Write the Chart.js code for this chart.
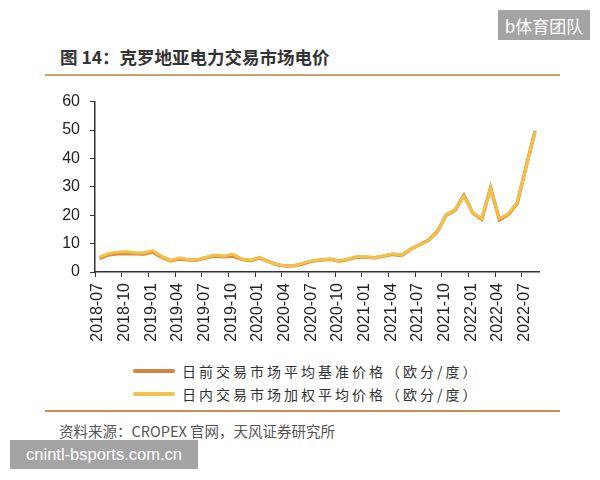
<!DOCTYPE html>
<html>
<head>
<meta charset="utf-8">
<script src="https://cdn.jsdelivr.net/npm/chart.js@4.4.0/dist/chart.umd.min.js"></script>
<style>
    body { margin: 0; width: 600px; height: 480px; background: #ffffff; position: relative; overflow: hidden; font-family: "Noto Sans CJK SC", "Noto Sans", sans-serif; }
    .titulo { position: absolute; left: 60px; top: 44px; font-size: 17.5px; font-weight: bold; color: #333333; }
    .linha { position: absolute; left: 45px; width: 515px; height: 2px; }
    .legenda { position: absolute; left: 133px; font-size: 14px; letter-spacing: 3px; color: #333333; display: flex; align-items: center; }
    .legenda span.amostra { display: inline-block; width: 42px; height: 4px; margin-right: 7px; border-radius: 2px; }
    .fonte { position: absolute; left: 59px; top: 420px; font-size: 14.5px; color: #555555; }
    .marca { position: absolute; background: #a4a4a4; color: #ffffff; display: flex; align-items: center; justify-content: center; }
    #boxChart { position: absolute; left: 0; top: 82px; width: 560px; height: 270px; }
</style>
</head>
<body>
<div class="marca" style="left:498px; top:10px; width:92px; height:30px; font-size:17px;">b体育团队</div>
<div class="titulo">图 14：克罗地亚电力交易市场电价</div>
<div class="linha" style="top:74px; background:#caa66c;"></div>

<div id="boxChart"><canvas id="graficoPreco"></canvas></div>

<div class="legenda" style="top:361px;"><span class="amostra" style="background:#d5843f;"></span>日前交易市场平均基准价格（欧分/度）</div>
<div class="legenda" style="top:384px;"><span class="amostra" style="background:#f0c24e;"></span>日内交易市场加权平均价格（欧分/度）</div>
<div class="linha" style="top:410px; background:#c98c55;"></div>
<div class="fonte">资料来源：CROPEX 官网，天风证券研究所</div>
<div class="marca" style="left:10px; top:440px; width:188px; height:29px; font-size:16.5px; font-family:'Liberation Sans', sans-serif;">cnintl-bsports.com.cn</div>

<script>
// meses (2018-07 ate 2022-08)
const meses = ['2018-07', '2018-08', '2018-09', '2018-10', '2018-11', '2018-12',
    '2019-01', '2019-02', '2019-03', '2019-04', '2019-05', '2019-06',
    '2019-07', '2019-08', '2019-09', '2019-10', '2019-11', '2019-12',
    '2020-01', '2020-02', '2020-03', '2020-04', '2020-05', '2020-06',
    '2020-07', '2020-08', '2020-09', '2020-10', '2020-11', '2020-12',
    '2021-01', '2021-02', '2021-03', '2021-04', '2021-05', '2021-06',
    '2021-07', '2021-08', '2021-09', '2021-10', '2021-11', '2021-12',
    '2022-01', '2022-02', '2022-03', '2022-04', '2022-05', '2022-06',
    '2022-07', '2022-08'];

// rotulos do eixo x (a cada 3 meses)
const rotulosX = ['2018-07', '2018-10', '2019-01', '2019-04', '2019-07', '2019-10',
    '2020-01', '2020-04', '2020-07', '2020-10', '2021-01', '2021-04',
    '2021-07', '2021-10', '2022-01', '2022-04', '2022-07'];

// Dia seguinte - preco base medio (centavos de euro / kWh)
const dadosDiaSeguinte = [4.8, 6.0, 6.4, 6.5, 6.4, 6.3, 7.0, 5.2, 4.0, 4.6, 4.2, 4.2,
    5.0, 5.6, 5.4, 5.6, 4.5, 4.0, 5.0, 3.7, 2.5, 2.1, 2.2, 3.0,
    3.9, 4.2, 4.5, 3.8, 4.5, 5.3, 5.2, 5.0, 5.6, 6.2, 5.8, 8.0,
    9.6, 11.2, 14.2, 20.0, 21.8, 27.0, 20.8, 18.5, 29.6, 18.4, 20.3, 24.2,
    37.2, 49.6];

// Intradiario - preco medio ponderado
const dadosIntradiario = [5.2, 6.5, 7.0, 7.2, 6.8, 6.8, 7.5, 5.5, 4.1, 5.0, 4.3, 4.3,
    5.2, 6.0, 5.6, 6.3, 4.6, 4.1, 5.2, 3.6, 2.6, 2.2, 2.3, 3.2,
    4.0, 4.3, 4.6, 3.7, 4.6, 5.4, 5.3, 5.0, 5.7, 6.4, 5.9, 8.0,
    9.5, 11.0, 14.0, 20.2, 22.0, 26.6, 21.0, 18.8, 29.3, 18.8, 20.5, 24.5,
    37.0, 49.4];

// pontos no meio de cada mes
function montarPontos(valores) {
    return valores.map((v, i) => ({ x: i + 0.5, y: v }));
}

const ctxPreco = document.getElementById('graficoPreco');

const chart = new Chart(ctxPreco, {
    type: 'line',
    data: {
        datasets: [{
            label: '日前交易市场平均基准价格（欧分/度）',
            data: montarPontos(dadosDiaSeguinte),
            borderColor: '#dd8a38',
            borderWidth: 3.5,
            pointRadius: 0,
            tension: 0,
            fill: false,
            order: 1
        }, {
            label: '日内交易市场加权平均价格（欧分/度）',
            data: montarPontos(dadosIntradiario),
            borderColor: '#f2c14a',
            borderWidth: 3,
            pointRadius: 0,
            tension: 0,
            fill: false,
            order: 0
        }]
    },
    options: {
        responsive: true,
        maintainAspectRatio: false,
        animation: false,
        layout: {
            padding: { top: 1, right: 20.5, bottom: 0, left: 0 }
        },
        scales: {
            x: {
                type: 'linear',
                min: 0,
                max: 50,
                afterFit: (scale) => { scale.height = 80; },
                grid: { drawOnChartArea: false, tickLength: 5, color: '#333333' },
                border: { color: '#333333', width: 1.5 },
                ticks: {
                    stepSize: 3,
                    includeBounds: false,
                    autoSkip: false,
                    maxRotation: 90,
                    minRotation: 90,
                    padding: 6,
                    labelOffset: 3,
                    color: '#222222',
                    font: { family: 'Liberation Sans', size: 16 },
                    callback: (valor) => rotulosX[valor / 3]
                }
            },
            y: {
                min: 0,
                max: 60,
                afterFit: (scale) => { scale.width = 95; },
                grid: { drawOnChartArea: false, tickLength: 5, color: '#333333' },
                border: { color: '#333333', width: 1.5 },
                ticks: {
                    stepSize: 10,
                    padding: 10,
                    color: '#222222',
                    font: { family: 'Liberation Sans', size: 16 }
                }
            }
        },
        plugins: {
            legend: { display: false },
            tooltip: { enabled: false }
        }
    }
});
</script>
</body>
</html>
